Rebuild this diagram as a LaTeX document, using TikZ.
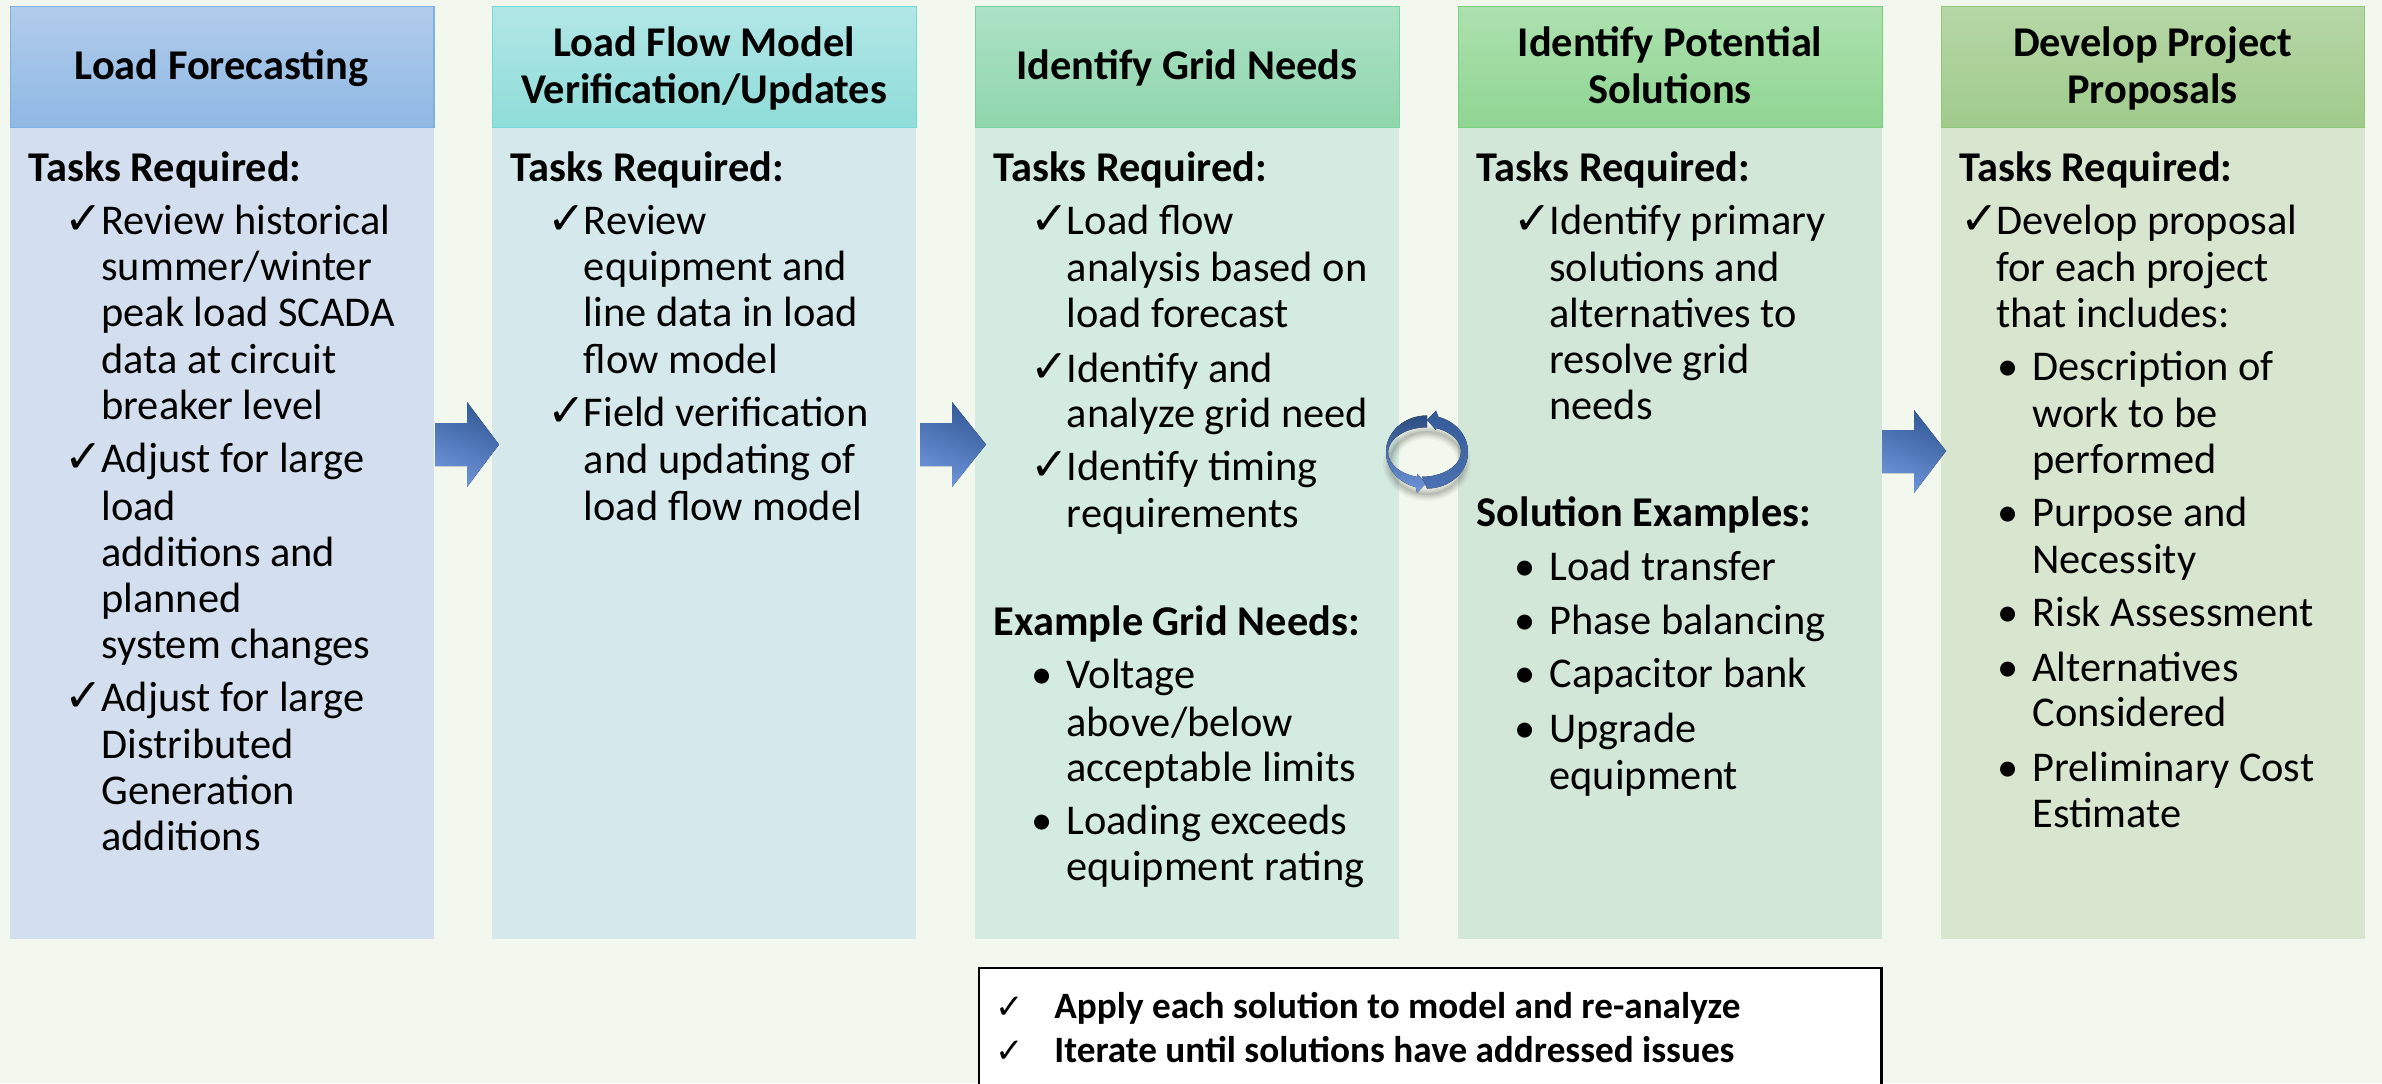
\documentclass[tikz,border=0pt]{standalone}
\usepackage{fontspec}
\setmainfont{Carlito}
\newfontfamily\symf{DejaVu Sans}
\newcounter{tn}
\definecolor{bgc}{HTML}{F2F8EE}
\definecolor{aT}{HTML}{B1CCEB}\definecolor{aB}{HTML}{8FB8E4}\definecolor{aL}{HTML}{7FB0E4}\definecolor{aF}{HTML}{D3DFEE}
\definecolor{bT}{HTML}{B1E7E6}\definecolor{bB}{HTML}{8FDCD8}\definecolor{bL}{HTML}{72DAD8}\definecolor{bF}{HTML}{D5E9EC}
\definecolor{cT}{HTML}{ACE2C6}\definecolor{cB}{HTML}{8FD6AC}\definecolor{cL}{HTML}{78D4A4}\definecolor{cF}{HTML}{D4EBE2}
\definecolor{dT}{HTML}{ADE1AF}\definecolor{dB}{HTML}{8FD592}\definecolor{dL}{HTML}{76D07C}\definecolor{dF}{HTML}{D3E7D9}
\definecolor{eT}{HTML}{B6D7A6}\definecolor{eB}{HTML}{A0CB8C}\definecolor{eL}{HTML}{92C67A}\definecolor{eF}{HTML}{D8E5CF}
\definecolor{arD}{HTML}{345A98}\definecolor{arL}{HTML}{6E95DA}
\tikzset{
  txt/.style={anchor=base west,inner sep=0pt,yshift=-0.75pt,font=\fontsize{21.2}{25}\selectfont,text=black},
  btxt/.style={txt,font=\fontsize{21.2}{25}\selectfont\bfseries},
  chk/.style={txt,font=\fontsize{23}{25}\selectfont\symf},
  hdrt/.style={anchor=base,inner sep=0pt,yshift=-0.75pt,font=\fontsize{21.2}{25}\selectfont\bfseries,text=black},
  notet/.style={anchor=base west,inner sep=0pt,yshift=-0.75pt,font=\fontsize{18.6}{22}\selectfont\bfseries,text=black},
  notec/.style={anchor=base west,inner sep=0pt,yshift=-0.75pt,font=\fontsize{17}{22}\selectfont\symf,text=black},
  hdrbox/.style={anchor=north west,minimum width=211.8pt,minimum height=60.5pt,inner sep=0pt,line width=.6pt},
  bodybox/.style={anchor=north west,minimum width=212pt,minimum height=406pt,inner sep=0pt,draw=none},
  blockarrow/.style={draw=none,top color=arD,bottom color=arL,shading angle=-25},
}
\newcommand{\T}[3]{\stepcounter{tn}\node[txt] (t\arabic{tn}) at (#1,#2) {#3};}
\newcommand{\B}[3]{\stepcounter{tn}\node[btxt] (t\arabic{tn}) at (#1,#2) {#3};}
\newcommand{\C}[2]{\stepcounter{tn}\node[chk] (t\arabic{tn}) at (#1,#2) {✓};}
\newcommand{\Bu}[2]{\stepcounter{tn}\node[txt] (t\arabic{tn}) at (#1,#2) {•};}
\newcommand{\Hd}[3]{\stepcounter{tn}\node[hdrt] (t\arabic{tn}) at (#1,#2) {#3};}
\begin{document}
\begin{tikzpicture}[x=0.5pt,y=-0.5pt]
\useasboundingbox (0,0) rectangle (2382,1083);
\clip (0,0) rectangle (2382,1083);
\fill[bgc] (0,0) rectangle (2382,1083);
% columns
\foreach \n/\x/\k in {1/9.7/a,2/492/b,3/975/c,4/1458/d,5/1940.5/e}{
  \node[bodybox,fill=\k F] (body\n) at (\x,127) {};
  \node[hdrbox,draw=\k L,top color=\k T,bottom color=\k B] (head\n) at (\x,6) {};
}
% block arrows
\fill[blockarrow] (435,423) -- (467,423) -- (467,402) -- (499,444.5) -- (467,487) -- (467,466) -- (435,466) -- cycle;
\fill[blockarrow] (920,423) -- (952,423) -- (952,402) -- (986,444.5) -- (952,487) -- (952,466) -- (920,466) -- cycle;
\fill[blockarrow] (1882,430) -- (1914,430) -- (1914,410) -- (1946,451) -- (1914,493) -- (1914,473) -- (1882,473) -- cycle;
% cycle shadow
\foreach \w/\o in {14/.03,11/.04,8/.05,5/.06,2/.07}{
  \draw[black,opacity=\o,line width=\w*0.5pt] (1427,463) ellipse [x radius=37,y radius=31];
}
% cycle arrows
\fill[top color=arD!85!black,bottom color=arL,draw=none]
  (1427,415.5) arc[start angle=-90,end angle=-254,x radius=41,y radius=36.5] -- (1417,492.7) -- (1426.5,483) -- (1417,473.7)
  -- (1417,476.8) arc[start angle=-255,end angle=-90,x radius=39,y radius=25.2] -- cycle;
\fill[top color=arD,bottom color=arD!60!arL,draw=none]
  (1427,488.5) arc[start angle=90,end angle=-74,x radius=41,y radius=36.5] -- (1436,410.7) -- (1427,420) -- (1436,430)
  -- (1436,428) arc[start angle=-69,end angle=90,x radius=39,y radius=25.2] -- cycle;
% headers
\Hd{221.5}{78}{Load Forecasting}
\Hd{704}{55}{Load Flow Model}
\Hd{704}{101.5}{Verification/Updates}
\Hd{1187}{78}{Identify Grid Needs}
\Hd{1670}{55}{Identify Potential}
\Hd{1670}{101.5}{Solutions}
\Hd{2152.5}{55}{Develop Project}
\Hd{2152.5}{101.5}{Proposals}
% column 1
\B{28}{180}{Tasks Required:}
\C{64}{233}\T{101}{233}{Review historical}
\T{101}{279}{summer/winter}
\T{101}{325}{peak load SCADA}
\T{101}{372}{data at circuit}
\T{101}{418}{breaker level}
\C{64}{471}\T{101}{471}{Adjust for large}
\T{101}{519}{load}
\T{101}{564.5}{additions and}
\T{101}{611}{planned}
\T{101}{657}{system changes}
\C{64}{710}\T{101}{710}{Adjust for large}
\T{101}{757}{Distributed}
\T{101}{803}{Generation}
\T{101}{848.5}{additions}
% column 2
\B{510.5}{180}{Tasks Required:}
\C{547}{233}\T{583.5}{233}{Review}
\T{583.5}{279}{equipment and}
\T{583.5}{325}{line data in load}
\T{583.5}{372}{flow model}
\C{547}{425}\T{583.5}{425}{Field verification}
\T{583.5}{472}{and updating of}
\T{583.5}{519}{load flow model}
% column 3
\B{993.5}{180}{Tasks Required:}
\C{1030}{233}\T{1066.5}{233}{Load flow}
\T{1066.5}{280}{analysis based on}
\T{1066.5}{326}{load forecast}
\C{1030}{380.5}\T{1066.5}{380.5}{Identify and}
\T{1066.5}{426}{analyze grid need}
\C{1030}{479}\T{1066.5}{479}{Identify timing}
\T{1066.5}{526}{requirements}
\B{993.5}{634}{Example Grid Needs:}
\Bu{1031}{687}\T{1066}{687}{Voltage}
\T{1066}{734.5}{above/below}
\T{1066}{780}{acceptable limits}
\Bu{1031}{833}\T{1066}{833}{Loading exceeds}
\T{1066}{879}{equipment rating}
% column 4
\B{1476.5}{180}{Tasks Required:}
\C{1513}{233}\T{1549}{233}{Identify primary}
\T{1549}{280}{solutions and}
\T{1549}{326}{alternatives to}
\T{1549}{372}{resolve grid}
\T{1549}{418}{needs}
\B{1476.5}{525}{Solution Examples:}
\Bu{1514}{579}\T{1549}{579}{Load transfer}
\Bu{1514}{633}\T{1549}{633}{Phase balancing}
\Bu{1514}{686}\T{1549}{686}{Capacitor bank}
\Bu{1514}{741}\T{1549}{741}{Upgrade}
\T{1549}{788}{equipment}
% column 5
\B{1959}{180}{Tasks Required:}
\C{1960}{233}\T{1996}{233}{Develop proposal}
\T{1996}{280}{for each project}
\T{1996}{326}{that includes:}
\Bu{1997}{379}\T{2032}{379}{Description of}
\T{2032}{426}{work to be}
\T{2032}{472}{performed}
\Bu{1997}{525}\T{2032}{525}{Purpose and}
\T{2032}{572}{Necessity}
\Bu{1997}{625}\T{2032}{625}{Risk Assessment}
\Bu{1997}{680}\T{2032}{680}{Alternatives}
\T{2032}{725}{Considered}
\Bu{1997}{780}\T{2032}{780}{Preliminary Cost}
\T{2032}{826}{Estimate}
% note box
\node[draw=black,fill=white,line width=1.2pt,anchor=north west,minimum width=451.4pt,minimum height=80pt,inner sep=0pt] (note) at (977.5,967) {};
\node[notec] (nc1) at (995,1017) {✓};
\node[notet] (nt1) at (1054,1017) {Apply each solution to model and re-analyze};
\node[notec] (nc2) at (995,1061) {✓};
\node[notet] (nt2) at (1054,1061) {Iterate until solutions have addressed issues};
\end{tikzpicture}
\end{document}
